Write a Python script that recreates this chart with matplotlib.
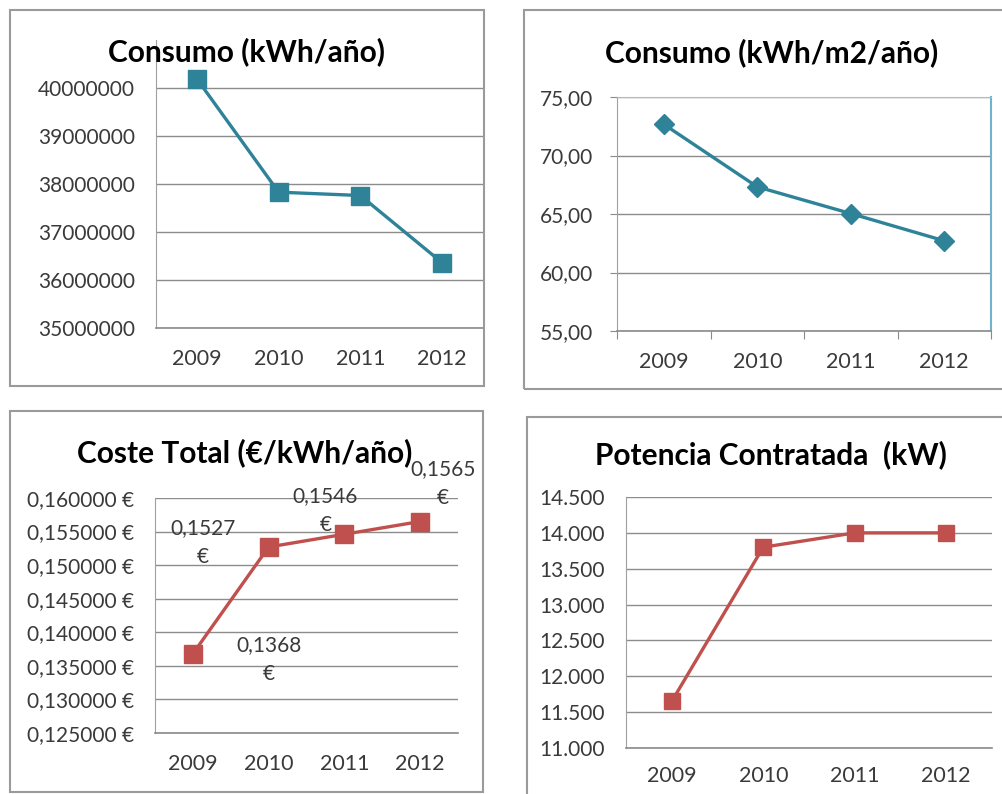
import matplotlib
matplotlib.use("Agg")
import matplotlib.pyplot as plt
from matplotlib.patches import Rectangle
from matplotlib.ticker import FuncFormatter, FixedLocator

# ---------------- data ----------------
years = ["2009", "2010", "2011", "2012"]
consumo_kwh = [40190000, 37830000, 37760000, 36360000]
consumo_m2 = [72.67, 67.32, 65.04, 62.71]
coste_total = [0.1368, 0.1527, 0.1546, 0.1565]
coste_labels = ["0,1368\n€", "0,1527\n€", "0,1546\n€", "0,1565\n€"]
potencia = [11650, 13800, 14000, 14000]

titles = ["Consumo (kWh/año)", "Consumo (kWh/m2/año)",
          "Coste Total (€/kWh/año)", "Potencia Contratada  (kW)"]

# ---------------- style ----------------
plt.rcParams["font.family"] = ["Lato", "DejaVu Sans"]
W, H = 1002, 794
TEAL = "#2E8399"
RED = "#C0504D"
GRID = "#8C8C8C"
TXT = "#3A3A3A"
FS_TICK = 15
FS_XTICK = 15.5
FS_TITLE = 21.5

fig = plt.figure(figsize=(W / 100, H / 100), dpi=100)
fig.patch.set_facecolor("white")


def box(x0, y0, x1, y1):
    fig.patches.append(Rectangle((x0 / W, 1 - y1 / H), (x1 - x0) / W, (y1 - y0) / H,
                                 transform=fig.transFigure, fill=False,
                                 edgecolor="#9A9A9A", linewidth=1.5, zorder=0))


def axes_px(left, top, right, bottom):
    return fig.add_axes([left / W, 1 - bottom / H, (right - left) / W, (bottom - top) / H])


def title(x, y, s):
    fig.text(x / W, 1 - y / H, s, ha="center", va="center", fontsize=FS_TITLE,
             fontweight="bold", color="black")


def base(ax, ylo, yhi, yticks, fmt, ypad, xpad):
    x = list(range(len(years)))
    ax.set_xlim(-0.5, len(years) - 0.5)
    ax.set_ylim(ylo, yhi)
    ax.yaxis.set_major_locator(FixedLocator(yticks))
    ax.yaxis.set_major_formatter(FuncFormatter(fmt))
    ax.set_xticks(x)
    ax.set_xticklabels(years)
    ax.grid(axis="y", color=GRID, linewidth=1.0)
    ax.set_axisbelow(True)
    for s in ["top", "right"]:
        ax.spines[s].set_visible(False)
    ax.spines["left"].set_color("#A0A0A0")
    ax.spines["bottom"].set_color("#8A8A8A")
    ax.spines["bottom"].set_linewidth(1.2)
    ax.tick_params(axis="y", length=0, pad=ypad, labelsize=FS_TICK, labelcolor=TXT)
    ax.tick_params(axis="x", length=0, pad=xpad, labelsize=FS_XTICK, labelcolor=TXT)
    ax.patch.set_alpha(0)
    return x


# ---------- Panel 1 ----------
box(10, 10, 484, 386)
ax1 = axes_px(156, 40, 483, 328)
x = base(ax1, 35e6, 41e6, [35e6, 36e6, 37e6, 38e6, 39e6, 40e6],
         lambda v, p: f"{int(round(v))}", 15, 15)
ax1.plot(x, consumo_kwh, color=TEAL, linewidth=2.4, marker="s", markersize=13,
         markerfacecolor=TEAL, markeredgecolor=TEAL, clip_on=False)
title(247, 52, titles[0])

# ---------- Panel 2 ----------
box(524, 10, 1010, 389)
ax2 = axes_px(617, 97, 991, 331)
x = base(ax2, 55, 75, [55, 60, 65, 70, 75],
         lambda v, p: f"{v:.2f}".replace(".", ","), 12, 15)
ax2.spines["top"].set_visible(True)
ax2.spines["top"].set_color("#9CC3CF")
ax2.spines["right"].set_visible(True)
ax2.spines["right"].set_color("#6FB3CC")
ax2.spines["right"].set_linewidth(1.5)
ax2.tick_params(axis="y", length=5, color="#8A8A8A")
ax2.set_xticks([i - 0.5 for i in range(len(years) + 1)])
ax2.set_xticklabels([])
ax2.set_xticks(x, minor=True)
ax2.set_xticklabels(years, minor=True)
ax2.tick_params(axis="x", which="major", length=6, color="#8A8A8A")
ax2.tick_params(axis="x", which="minor", length=0, pad=15, labelsize=FS_XTICK, labelcolor=TXT)
ax2.plot(x, consumo_m2, color=TEAL, linewidth=2.4, marker="D", markersize=10,
         markerfacecolor=TEAL, markeredgecolor=TEAL, clip_on=False)
title(772, 53, titles[1])

# ---------- Panel 3 ----------
box(10, 411, 483, 792)
ax3 = axes_px(155, 498, 458, 733)
x = base(ax3, 0.125, 0.160, [0.125, 0.130, 0.135, 0.140, 0.145, 0.150, 0.155, 0.160],
         lambda v, p: f"{v:.6f}".replace(".", ",") + " €", 15, 15)
ax3.plot(x, coste_total, color=RED, linewidth=2.4, marker="s", markersize=13,
         markerfacecolor=RED, markeredgecolor=RED, clip_on=False)
label_dx = [1.0, -0.87, -0.25, 0.3]
label_dy = [-0.0008, 0.0007, 0.0035, 0.0056]
for i, (v, lab) in enumerate(zip(coste_total, coste_labels)):
    ax3.text(x[i] + label_dx[i], v + label_dy[i], lab, ha="center", va="center",
             fontsize=FS_TICK, color=TXT, linespacing=1.55, clip_on=False)
title(245, 453, titles[2])

# ---------- Panel 4 ----------
box(527, 417, 1010, 800)
ax4 = axes_px(626, 497, 992, 748)
x = base(ax4, 11000, 14500, [11000, 11500, 12000, 12500, 13000, 13500, 14000, 14500],
         lambda v, p: f"{int(round(v)):,}".replace(",", "."), 15, 13)
ax4.plot(x, potencia, color=RED, linewidth=2.4, marker="s", markersize=12,
         markerfacecolor=RED, markeredgecolor=RED, clip_on=False)
title(771, 455, titles[3])

fig.savefig("out.png", dpi=100, facecolor="white")
